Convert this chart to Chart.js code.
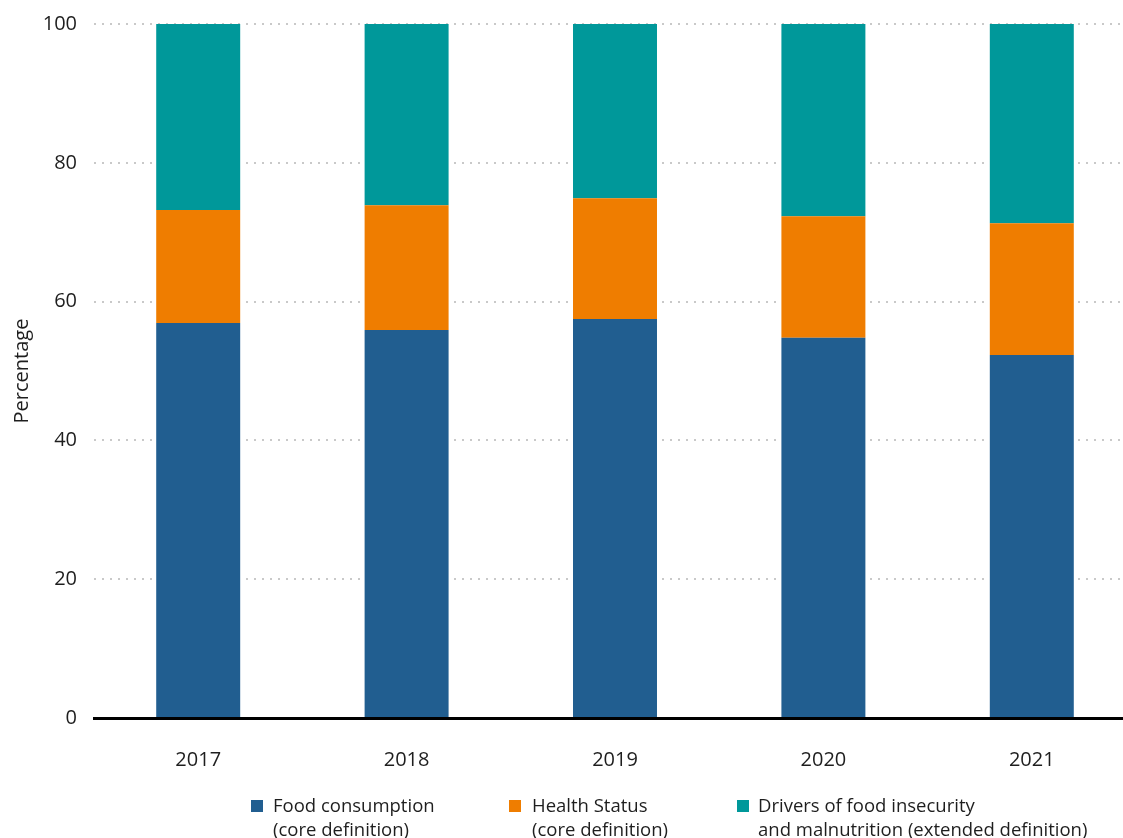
<!DOCTYPE html>
<html>
<head>
<meta charset="utf-8">
<script src="https://cdn.jsdelivr.net/npm/chart.js@4"></script>
<style>
  html, body { margin: 0; padding: 0; background: #fff; overflow: hidden; }
  #wrap { position: relative; width: 1136px; height: 838px; }
  #legend { position: absolute; top: 0; left: 0; font-family: "Open Sans", sans-serif; font-size: 18.5px; color: #1e1e1e; }
  .item { position: absolute; top: 793px; line-height: 24px; white-space: nowrap; }
  .sw { position: absolute; width: 12px; height: 12px; top: 800px; }
</style>
</head>
<body>
<div id="wrap">
  <canvas id="c" width="1136" height="838"></canvas>
  <div id="legend"></div>
</div>
<script>
const years = ["2017", "2018", "2019", "2020", "2021"];
const foodConsumption = [56.9, 55.9, 57.5, 54.8, 52.3];
const healthStatus = [16.3, 18.0, 17.4, 17.5, 19.0];
const drivers = [26.8, 26.1, 25.1, 27.7, 28.7];
const yTicks = [0, 20, 40, 60, 80, 100];
const seriesNames = [
  ["Food consumption", "(core definition)"],
  ["Health Status", "(core definition)"],
  ["Drivers of food insecurity", "and malnutrition (extended definition)"]
];
const seriesColors = ["#215e90", "#ef7d00", "#00989a"];

// legend built as HTML so each entry can wrap onto two lines
const legendPos = [
  { sw: 251, text: 273 },
  { sw: 509, text: 532 },
  { sw: 737, text: 758 }
];
const legend = document.getElementById("legend");
seriesNames.forEach((lines, i) => {
  const sw = document.createElement("div");
  sw.className = "sw";
  sw.style.left = legendPos[i].sw + "px";
  sw.style.background = seriesColors[i];
  legend.appendChild(sw);
  const t = document.createElement("div");
  t.className = "item";
  t.style.left = legendPos[i].text + "px";
  t.innerHTML = lines.join("<br>");
  legend.appendChild(t);
});

const tickFont = { family: "'Open Sans', sans-serif", size: 20 };
new Chart(document.getElementById("c"), {
  type: "bar",
  data: {
    labels: years,
    datasets: [foodConsumption, healthStatus, drivers].map((d, i) => ({
      label: seriesNames[i].join(" "),
      data: d,
      backgroundColor: seriesColors[i],
      borderWidth: 0,
      barPercentage: 0.403,
      categoryPercentage: 1
    }))
  },
  options: {
    responsive: false,
    animation: false,
    layout: { padding: { top: 24, right: 0, bottom: 0, left: 0 } },
    plugins: { legend: { display: false }, tooltip: { enabled: false } },
    scales: {
      x: {
        stacked: true,
        grid: { display: false },
        border: { display: true, color: "#000", width: 3 },
        ticks: { color: "#1e1e1e", font: tickFont, padding: 22 },
        afterFit: s => { s.height = 120; }
      },
      y: {
        stacked: true,
        min: 0,
        max: 100,
        afterBuildTicks: s => { s.ticks = yTicks.map(v => ({ value: v })); },
        grid: {
          drawTicks: false,
          color: c => (c.tick && c.tick.value === 0 ? "rgba(0,0,0,0)" : "#c9c9c9"),
          lineWidth: 2
        },
        border: { display: false, dash: [2, 6] },
        ticks: { color: "#1e1e1e", font: tickFont, padding: 17 },
        title: { display: true, text: "Percentage", color: "#1e1e1e", font: { family: "'Open Sans', sans-serif", size: 20 }, padding: { top: 10, bottom: 0 } },
        afterFit: s => { s.width = 94; s.paddingTop = 0; s.paddingBottom = 0; }
      }
    }
  }
});
</script>
</body>
</html>
